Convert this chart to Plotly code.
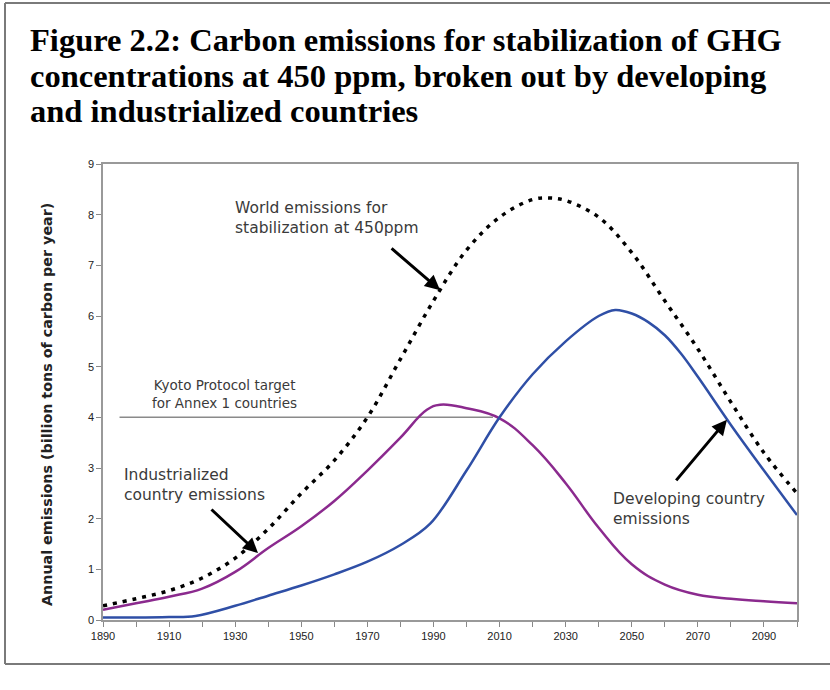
import plotly.graph_objects as go

# ---- data ----
ind_years = [1890, 1900, 1910, 1920, 1930, 1940, 1950, 1960, 1970, 1980, 1988, 1992,
             2000, 2010, 2020, 2030, 2040, 2050, 2060, 2070, 2080, 2090, 2100]
ind_values = [0.2, 0.33, 0.46, 0.62, 0.95, 1.42, 1.85, 2.35, 2.95, 3.6, 4.15, 4.25,
              4.18, 3.98, 3.45, 2.7, 1.82, 1.1, 0.7, 0.5, 0.42, 0.37, 0.33]

dev_years = [1890, 1900, 1910, 1918, 1930, 1940, 1950, 1960, 1970, 1980, 1989,
             2000, 2010, 2020, 2030, 2040, 2045, 2050, 2055, 2060, 2065, 2070,
             2080, 2090, 2100]
dev_values = [0.05, 0.05, 0.06, 0.08, 0.28, 0.48, 0.68, 0.9, 1.15, 1.48, 1.9,
              2.95, 4.0, 4.85, 5.5, 6.0, 6.12, 6.05, 5.88, 5.62, 5.25, 4.8,
              3.85, 2.95, 2.07]

world_years = [1890, 1900, 1910, 1920, 1930, 1940, 1950, 1960, 1970, 1980, 1990,
               2000, 2010, 2020, 2025, 2030, 2040, 2050, 2060, 2070, 2080, 2090, 2100]
world_values = [0.28, 0.42, 0.58, 0.83, 1.22, 1.8, 2.5, 3.15, 4.0, 5.15, 6.3,
                7.3, 7.95, 8.3, 8.33, 8.28, 7.95, 7.25, 6.3, 5.35, 4.3, 3.3, 2.5]

kyoto_years = [1895, 2008]
kyoto_values = [4, 4]

x_tick_vals = list(range(1890, 2101, 10))
x_tick_text = [str(v) if (v - 1890) % 20 == 0 else "" for v in x_tick_vals]
y_tick_vals = list(range(0, 10))

title_lines = ["Figure 2.2: Carbon emissions for stabilization of GHG",
               "concentrations at 450 ppm, broken out by developing",
               "and industrialized countries"]

PURPLE = "#8B2A8E"
BLUE = "#2F4FA6"
GRAY_TXT = "#3a3a3a"

# plot-area geometry (pixels) used to place paper-referenced items
L, R, T, B = 103, 797, 164, 620
def px(x):
    return (x - L) / (R - L)
def py(y):
    return (B - y) / (B - T)

fig = go.Figure()
fig.add_trace(go.Scatter(x=kyoto_years, y=kyoto_values, mode="lines",
                         line=dict(color="#8a8a8a", width=1.5), hoverinfo="skip"))
fig.add_trace(go.Scatter(x=ind_years, y=ind_values, mode="lines",
                         line=dict(color=PURPLE, width=2.5, shape="spline", smoothing=1.2)))
fig.add_trace(go.Scatter(x=dev_years, y=dev_values, mode="lines",
                         line=dict(color=BLUE, width=2.5, shape="spline", smoothing=1.0)))
fig.add_trace(go.Scatter(x=world_years, y=world_values, mode="lines",
                         line=dict(color="black", width=3.5, dash="4px,6px",
                                   shape="spline", smoothing=1.0)))

txt_font = dict(family="DejaVu Sans, sans-serif", size=15.5, color=GRAY_TXT)
kyoto_font = dict(family="DejaVu Sans, sans-serif", size=13.5, color=GRAY_TXT)
fig.add_annotation(x=1929.3, y=7.94, xref="x", yref="y", xanchor="left", yanchor="middle",
                   text="World emissions for<br>stabilization at 450ppm", showarrow=False,
                   align="left", font=txt_font)
fig.add_annotation(x=1926.9, y=4.47, xref="x", yref="y", xanchor="center", yanchor="middle",
                   text="Kyoto Protocol target<br>for Annex 1 countries", showarrow=False,
                   align="center", font=kyoto_font)
fig.add_annotation(x=1895.7, y=2.66, xref="x", yref="y", xanchor="left", yanchor="middle",
                   text="Industrialized<br>country emissions", showarrow=False,
                   align="left", font=txt_font)
fig.add_annotation(x=2043.7, y=2.19, xref="x", yref="y", xanchor="left", yanchor="middle",
                   text="Developing country<br>emissions", showarrow=False,
                   align="left", font=txt_font)

arrow = dict(showarrow=True, arrowhead=2, arrowsize=1, arrowwidth=3, arrowcolor="black",
             text="", xref="x", yref="y")
fig.add_annotation(x=1992.0, y=6.51, ax=-50, ay=-43, **arrow)
fig.add_annotation(x=1936.9, y=1.32, ax=-48, ay=-45, **arrow)
fig.add_annotation(x=2078.8, y=3.95, ax=-52, ay=62, **arrow)

for i, line in enumerate(title_lines):
    fig.add_annotation(x=px(28), y=py(40 + i * 35.5), xref="paper", yref="paper",
                       text="<b>" + line + "</b>", showarrow=False,
                       xanchor="left", yanchor="middle",
                       font=dict(family="Liberation Serif, Times New Roman, serif",
                                 size=32.5, color="black"))

# y-axis title placed as rotated text
fig.add_annotation(x=px(47), y=py(405), xref="paper", yref="paper", textangle=-90,
                   text="<b>Annual emissions (billion tons of carbon per year)</b>",
                   showarrow=False, xanchor="center", yanchor="middle",
                   font=dict(family="DejaVu Sans, sans-serif", size=14.3, color="#222"))

# outer frame (left, top, bottom edges)
frame = dict(color="#7a7a7a", width=2)
fig.add_shape(type="line", xref="paper", yref="paper", x0=px(5), x1=px(835),
              y0=py(3), y1=py(3), line=frame)
fig.add_shape(type="line", xref="paper", yref="paper", x0=px(5), x1=px(835),
              y0=py(664), y1=py(664), line=frame)
fig.add_shape(type="line", xref="paper", yref="paper", x0=px(5), x1=px(5),
              y0=py(3), y1=py(664), line=frame)

fig.update_layout(
    width=830, height=690,
    margin=dict(l=L, r=830 - R, t=T, b=690 - B),
    paper_bgcolor="white", plot_bgcolor="white",
    showlegend=False,
    font=dict(family="Arial, Liberation Sans, sans-serif", color="#222"),
    xaxis=dict(range=[1890, 2100], tickvals=x_tick_vals, ticktext=x_tick_text,
               ticks="outside", ticklen=5, tickcolor="#888", tickwidth=1,
               showline=True, linecolor="#999", linewidth=1.5, mirror=True,
               showgrid=False, zeroline=False, tickfont=dict(size=11, color="#222")),
    yaxis=dict(range=[0, 9], tickvals=y_tick_vals, ticks="outside", ticklen=5,
               tickcolor="#888", tickwidth=1, showline=True, linecolor="#999",
               linewidth=1.5, mirror=True, showgrid=False, zeroline=False,
               tickfont=dict(size=11, color="#222")),
)

fig.write_html("out.html", config={"displayModeBar": False},
               post_script="document.body.style.margin='0';")
